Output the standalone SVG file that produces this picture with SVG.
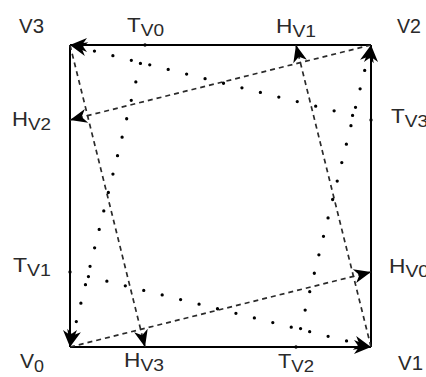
<svg xmlns="http://www.w3.org/2000/svg" width="426" height="377" viewBox="0 0 426 377">
<style>
  .edge{fill:none;stroke:#000;stroke-width:2}
  .dash{fill:none;stroke:#2a2a2a;stroke-width:1.7;stroke-dasharray:5 4}
  .dot{fill:none;stroke:#000;stroke-width:3.3;stroke-linecap:round;stroke-dasharray:0 19}
  text{font-family:"Liberation Sans",Arial,sans-serif;font-size:20px;fill:#2a2a2a}
  .sub{font-size:17px}
</style>
<defs>
  <marker id="ah" markerUnits="userSpaceOnUse" viewBox="-18 -8 19 16" refX="0" refY="0" markerWidth="19" markerHeight="16" orient="auto" overflow="visible">
    <path d="M0,0 L-17,-7 L-12,0 L-17,7 Z" fill="#000"/>
  </marker>
</defs>
<g id="connectors">
  <path class="edge" d="M70,347 L371,347" marker-end="url(#ah)"/>
  <path class="edge" d="M371,347 L371,45" marker-end="url(#ah)"/>
  <path class="edge" d="M371,45 L70,45" marker-end="url(#ah)"/>
  <path class="edge" d="M70,45 L70,347" marker-end="url(#ah)"/>
  <path class="dash" d="M70,347 L371,272" marker-end="url(#ah)"/>
  <path class="dash" d="M371,347 L296,45" marker-end="url(#ah)"/>
  <path class="dash" d="M371,45 L70,120" marker-end="url(#ah)"/>
  <path class="dash" d="M70,45 L145,347" marker-end="url(#ah)"/>
  <path class="dot" d="M145,45 L70,347" marker-end="url(#ah)"/>
  <path class="dot" d="M70,272 L371,347" marker-end="url(#ah)"/>
  <path class="dot" d="M296,347 L371,45" marker-end="url(#ah)"/>
  <path class="dot" d="M371,120 L70,45" marker-end="url(#ah)"/>
</g>
<g id="V0"><text x="20" y="368" textLength="24" lengthAdjust="spacingAndGlyphs">V<tspan class="sub" dy="4">0</tspan></text></g>
<g id="V1"><text x="398" y="370" textLength="25" lengthAdjust="spacingAndGlyphs">V1</text></g>
<g id="V2"><text x="397" y="33" textLength="24" lengthAdjust="spacingAndGlyphs">V2</text></g>
<g id="V3"><text x="19" y="33" textLength="25" lengthAdjust="spacingAndGlyphs">V3</text></g>
<g id="TV0"><text x="127" y="32" textLength="37" lengthAdjust="spacingAndGlyphs">T<tspan class="sub" dy="4">V0</tspan></text></g>
<g id="HV1"><text x="276" y="33" textLength="40" lengthAdjust="spacingAndGlyphs">H<tspan class="sub" dy="4">V1</tspan></text></g>
<g id="HV2"><text x="12" y="126" textLength="39" lengthAdjust="spacingAndGlyphs">H<tspan class="sub" dy="4">V2</tspan></text></g>
<g id="TV3"><text x="391" y="123" textLength="37" lengthAdjust="spacingAndGlyphs">T<tspan class="sub" dy="4">V3</tspan></text></g>
<g id="TV1"><text x="13" y="272" textLength="38" lengthAdjust="spacingAndGlyphs">T<tspan class="sub" dy="4">V1</tspan></text></g>
<g id="HV0"><text x="389" y="273" textLength="40" lengthAdjust="spacingAndGlyphs">H<tspan class="sub" dy="4">V0</tspan></text></g>
<g id="HV3"><text x="124" y="367" textLength="40" lengthAdjust="spacingAndGlyphs">H<tspan class="sub" dy="4">V3</tspan></text></g>
<g id="TV2"><text x="278" y="368" textLength="36" lengthAdjust="spacingAndGlyphs">T<tspan class="sub" dy="4">V2</tspan></text></g>
</svg>
